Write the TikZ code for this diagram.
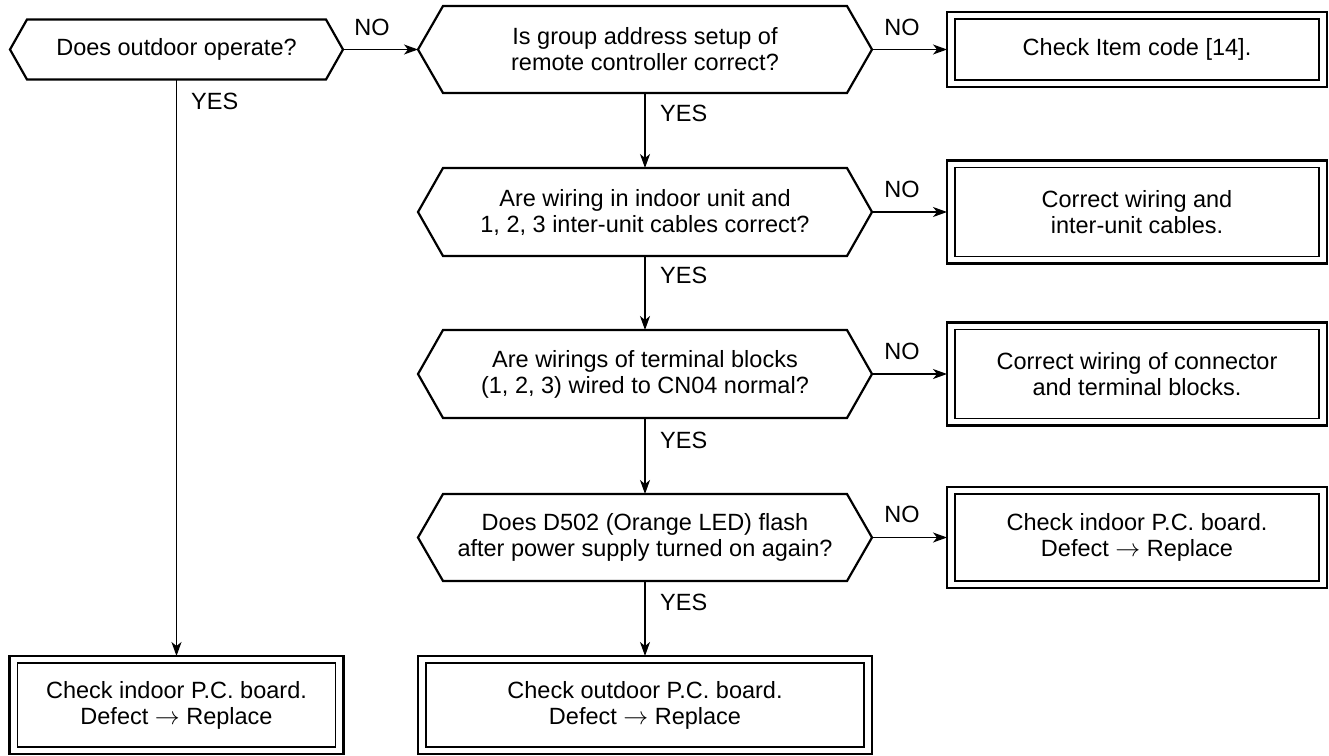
\documentclass[tikz,border=0pt]{standalone}
\usepackage{fontspec}
\setmainfont{Liberation Sans}
\usetikzlibrary{arrows.meta}
\newcommand\hexpath[2]{\draw[hexline] (#1.west) -- ([xshift=#2pt]#1.north west) -- ([xshift=-#2pt]#1.north east) -- (#1.east) -- ([xshift=-#2pt]#1.south east) -- ([xshift=#2pt]#1.south west) -- cycle;}
\newcommand\innerbox[1]{\draw[innerline] ([shift={(8,7)}]#1.north west) rectangle ([shift={(-8,-7)}]#1.south east);}
\newcommand\rarr{\smash{$\rightarrow$}}
\begin{document}
\begin{tikzpicture}[x=1pt,y=-1pt,
  txt/.style={font=\fontsize{23.5}{26}\selectfont, align=center, inner sep=0pt},
  hexnode/.style={txt, outer sep=0pt},
  hexline/.style={line width=2.2pt, line join=miter},
  outerbox/.style={txt, draw, line width=2.8pt, outer sep=0pt},
  innerline/.style={line width=1.3pt},
  conn/.style={line width=1.2pt, -{Stealth[length=14pt,width=10pt,inset=4pt]}},
  lbl/.style={font=\fontsize{23.5}{26}\selectfont, inner sep=0pt}]
\useasboundingbox (0,0) rectangle (1329,755);
% decisions
\node[hexnode, minimum width=333pt, minimum height=60pt] (h1) at (176.5,49.5) {Does outdoor operate?};
\hexpath{h1}{17}
\node[hexnode, minimum width=454pt, minimum height=87pt] (h2) at (645,49.5) {Is group address setup of\\remote controller correct?};
\hexpath{h2}{25}
\node[hexnode, minimum width=454pt, minimum height=88pt] (h3) at (645,212) {Are wiring in indoor unit and\\1, 2, 3 inter-unit cables correct?};
\hexpath{h3}{25}
\node[hexnode, minimum width=454pt, minimum height=88pt] (h4) at (645,374) {Are wirings of terminal blocks\\(1, 2, 3) wired to CN04 normal?};
\hexpath{h4}{25}
\node[hexnode, minimum width=454pt, minimum height=87pt] (h5) at (645,537.5) {Does D502 (Orange LED) flash\\after power supply turned on again?};
\hexpath{h5}{25}
% boxes
\node[outerbox, minimum width=380pt, minimum height=75pt] (b1) at (1137,49.5) {Check Item code [14].};
\innerbox{b1}
\node[outerbox, minimum width=380pt, minimum height=103pt] (b2) at (1137,212) {Correct wiring and\\inter-unit cables.};
\innerbox{b2}
\node[outerbox, minimum width=380pt, minimum height=103pt] (b3) at (1137,374) {Correct wiring of connector\\and terminal blocks.};
\innerbox{b3}
\node[outerbox, minimum width=380pt, minimum height=101pt] (b4) at (1137,537.5) {Check indoor P.C. board.\\Defect \rarr{} Replace};
\innerbox{b4}
\node[outerbox, minimum width=334pt, minimum height=98pt] (b5) at (176.5,705) {Check indoor P.C. board.\\Defect \rarr{} Replace};
\innerbox{b5}
\node[outerbox, minimum width=454pt, minimum height=98pt] (b6) at (645,705) {Check outdoor P.C. board.\\Defect \rarr{} Replace};
\innerbox{b6}
% connectors
\draw[conn] (h1.east) -- (h2.west);
\draw[conn] (h2.east) -- (b1.west);
\draw[conn] (h3.east) -- (b2.west);
\draw[conn] (h4.east) -- (b3.west);
\draw[conn] (h5.east) -- (b4.west);
\draw[conn] (h1.south) -- (b5.north);
\draw[conn] (h2.south) -- (h3.north);
\draw[conn] (h3.south) -- (h4.north);
\draw[conn] (h4.south) -- (h5.north);
\draw[conn] (h5.south) -- (b6.north);
% labels
\node[lbl] (no1) at (372,27) {NO};
\node[lbl] (no2) at (902,27) {NO};
\node[lbl] (no3) at (902,189) {NO};
\node[lbl] (no4) at (902,351) {NO};
\node[lbl] (no5) at (902,514) {NO};
\node[lbl, anchor=west] (yes1) at (191,101) {YES};
\node[lbl, anchor=west] (yes2) at (660,113) {YES};
\node[lbl, anchor=west] (yes3) at (660,275) {YES};
\node[lbl, anchor=west] (yes4) at (660,440) {YES};
\node[lbl, anchor=west] (yes5) at (660,602) {YES};
\end{tikzpicture}
\end{document}
